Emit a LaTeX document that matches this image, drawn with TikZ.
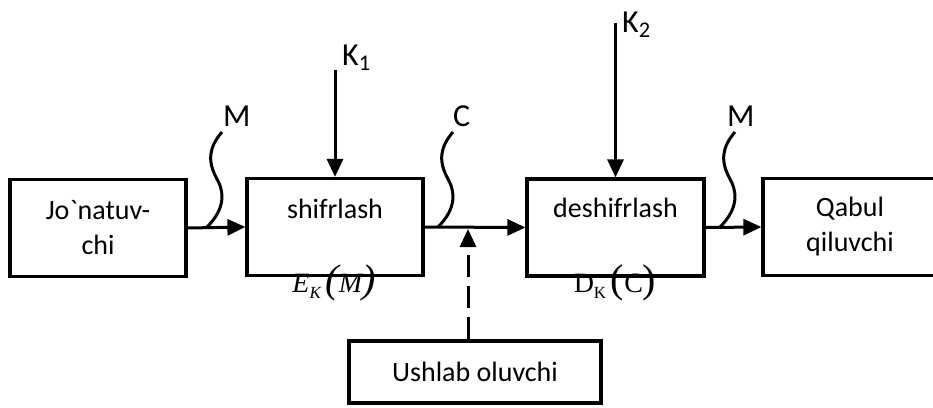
\documentclass[tikz,border=0pt]{standalone}
\usepackage{fontspec}
\setmainfont{Carlito}[Ligatures=TeXOff]
\newfontfamily\tms{Liberation Serif}
\usetikzlibrary{arrows.meta,positioning}

\tikzset{
  blok/.style={draw, line width=3.2pt, inner sep=0pt, minimum height=97pt,
    align=center, font=\fontsize{28}{35}\selectfont},
  strelka/.style={line width=3pt, -{Triangle[length=18pt,width=16pt]}},
  volna/.style={line width=3pt},
  yozuv/.style={font=\fontsize{28}{34}\selectfont, inner sep=0pt},
  belgi/.style={font=\fontsize{32}{34}\selectfont, inner sep=0pt},
  formula/.style={font=\tms\fontsize{28}{30}\selectfont, inner sep=0pt},
}
\newcommand{\qavs}[1]{{\fontsize{40}{40}\selectfont #1}}
\newcommand{\kichik}[1]{\raisebox{-6pt}{\fontsize{17}{17}\selectfont #1}}

\begin{document}
\begin{tikzpicture}[x=1pt,y=-1pt]
  \useasboundingbox (0,0) rectangle (933,407);
  % bloklar
  \node[blok, minimum width=176pt] (send) at (98,228) {Jo`natuv-\\chi};
  \node[blok, minimum width=176pt] (enc) at (335,227) {};
  \node[blok, minimum width=177pt] (dec) at (615.5,227.5) {};
  \node[blok, minimum width=174pt] (recv) at (850,227) {Qabul\\qiluvchi};
  \node[blok, minimum width=252pt, minimum height=62pt] (eve) at (475,372) {Ushlab oluvchi};
  \node[yozuv, anchor=base] (encname) at (335,218) {shifrlash};
  \node[yozuv, anchor=base] (decname) at (615.5,217) {deshifrlash};
  \node[formula, anchor=base] (encf) at (334,292) {\itshape E\kichik{K}\,\qavs{(}M\qavs{)}};
  \node[formula, anchor=base] (decf) at (615,292) {D\kichik{K}\,\qavs{(}C\qavs{)}};

  % kalitlar
  \coordinate (k1top) at (335,70);
  \coordinate (k2top) at (615.5,23);
  \node[belgi, anchor=base west] (k1) at (342,65) {K\textsubscript{1}};
  \node[belgi, anchor=base west] (k2) at (622,32) {K\textsubscript{2}};
  \draw[strelka] (k1top) -- (enc.north);
  \draw[strelka] (k2top) -- (dec.north);

  % asosiy kanal
  \draw[strelka] (send.east) -- (enc.west);
  \draw[strelka] (enc.east) -- (dec.west);
  \draw[strelka] (dec.east) -- (recv.west);

  % tinglovchi
  \coordinate (tap) at (468,229);
  \draw[strelka, dash pattern=on 22pt off 9pt] (eve.north -| tap) -- (tap);

  % to'lqinlar
  \foreach \x/\n in {207/1,438/2,720/3}{
    \coordinate (wave\n) at (\x,227);
    \draw[volna, shift={(wave\n)}] (0,0) .. controls (14,-14) and (20,-30) .. (10,-48)
      .. controls (0,-66) and (2,-80) .. (15,-95) coordinate (top\n);
  }
  \node[belgi, anchor=south west] (m1) at ([xshift=1pt,yshift=5pt]top1) {M};
  \node[belgi, anchor=south west] (c1) at ([xshift=0pt,yshift=5pt]top2) {C};
  \node[belgi, anchor=south west] (m2) at ([xshift=-8pt,yshift=5pt]top3) {M};
\end{tikzpicture}
\end{document}
